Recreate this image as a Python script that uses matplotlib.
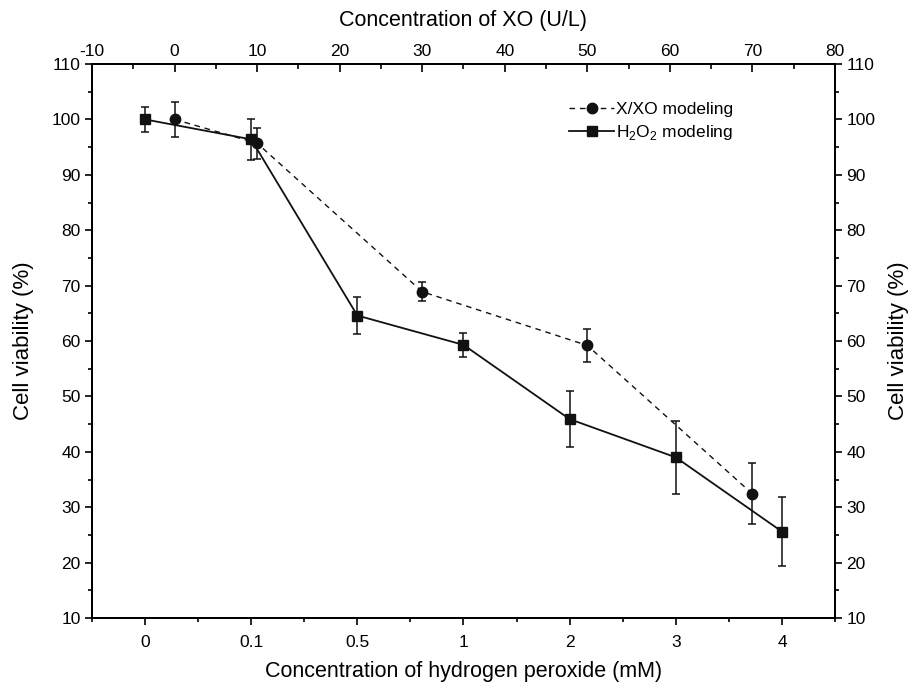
import numpy as np
import matplotlib
matplotlib.use("Agg")
from matplotlib import pyplot as plt
from matplotlib.lines import Line2D
from matplotlib.ticker import MultipleLocator, FixedLocator

plt.rcParams["font.family"] = ["Liberation Sans", "DejaVu Sans"]
plt.rcParams["mathtext.fontset"] = "custom"
plt.rcParams["mathtext.rm"] = "Liberation Sans"
plt.rcParams["axes.unicode_minus"] = False

# H2O2 series (categorical bottom axis)
h2o2_labels = ["0", "0.1", "0.5", "1", "2", "3", "4"]
h2o2_viab = [100.0, 96.4, 64.6, 59.3, 45.9, 39.0, 25.6]
h2o2_err = [2.2, 3.7, 3.3, 2.2, 5.0, 6.6, 6.2]

# X/XO series (top axis, U/L)
xo_conc = [0, 10, 30, 50, 70]
xo_viab = [100.0, 95.7, 68.9, 59.2, 32.4]
xo_err = [3.1, 2.8, 1.7, 3.0, 5.5]

TICK_FS = 12.5
LABEL_FS = 15.5
INK = "#111111"

fig = plt.figure(figsize=(9.17, 6.86), dpi=100)
ax = fig.add_axes([0.1003, 0.0991, 0.8103, 0.8076])

xpos = np.arange(len(h2o2_labels))
ax.errorbar(xpos, h2o2_viab, yerr=h2o2_err, color=INK, lw=1.3,
            marker="s", ms=6.5, capsize=3, elinewidth=1.1, capthick=1.1,
            zorder=3)
ax.set_xlim(-0.5, 6.5)
ax.set_ylim(10, 110)
ax.set_xticks(xpos)
ax.set_xticklabels(h2o2_labels)
ax.xaxis.set_minor_locator(FixedLocator(np.arange(-0.5, 7, 1)))
ax.yaxis.set_major_locator(MultipleLocator(10))
ax.yaxis.set_minor_locator(MultipleLocator(5))
ax.set_xlabel("Concentration of hydrogen peroxide (mM)", fontsize=LABEL_FS, labelpad=8)
ax.set_ylabel("Cell viability (%)", fontsize=16, labelpad=13)
ax.tick_params(which="major", direction="out", length=5, width=1.2,
               labelsize=TICK_FS)
ax.tick_params(axis="x", which="major", pad=7)
ax.tick_params(axis="y", which="major", pad=3)
ax.tick_params(which="minor", direction="out", length=3, width=1.2)
ax.tick_params(top=False, which="both")

# right axis mirrors the viability scale
axr = ax.twinx()
axr.set_ylim(10, 110)
axr.yaxis.set_major_locator(MultipleLocator(10))
axr.yaxis.set_minor_locator(MultipleLocator(5))
axr.set_ylabel("Cell viability (%)", fontsize=16, labelpad=9)
axr.tick_params(which="major", direction="out", length=5, width=1.2,
                labelsize=TICK_FS, pad=3)
axr.tick_params(which="minor", direction="out", length=3, width=1.2)

# top axis for xanthine oxidase concentration
axt = ax.twiny()
axt.set_xlim(-10, 80)
axt.set_ylim(10, 110)
axt.errorbar(xo_conc, xo_viab, yerr=xo_err, color=INK, lw=1.0,
             linestyle=(0, (4, 3.5)), marker="o", ms=7.5, capsize=3,
             elinewidth=1.1, capthick=1.1, zorder=3)
axt.xaxis.set_major_locator(MultipleLocator(10))
axt.xaxis.set_minor_locator(MultipleLocator(5))
axt.set_xlabel("Concentration of XO (U/L)", fontsize=LABEL_FS, labelpad=13)
axt.tick_params(which="major", direction="in", length=6, width=1.2,
                labelsize=TICK_FS, pad=3.5)
axt.tick_params(which="minor", direction="in", length=3.5, width=1.2)

for a in (ax, axr, axt):
    for sp in a.spines.values():
        sp.set_linewidth(1.4)

handles = [
    Line2D([], [], color=INK, lw=1.0, linestyle=(0, (4, 3.5)), marker="o", ms=7.5),
    Line2D([], [], color=INK, lw=1.3, marker="s", ms=6.5),
]
labels = ["X/XO modeling", "H$_2$O$_2$ modeling"]
axt.legend(handles, labels, loc="upper left", bbox_to_anchor=(0.621, 0.96),
           frameon=False, fontsize=TICK_FS, handlelength=2.6,
           handletextpad=0.1, labelspacing=0.35)

fig.savefig("out.png", dpi=100)
